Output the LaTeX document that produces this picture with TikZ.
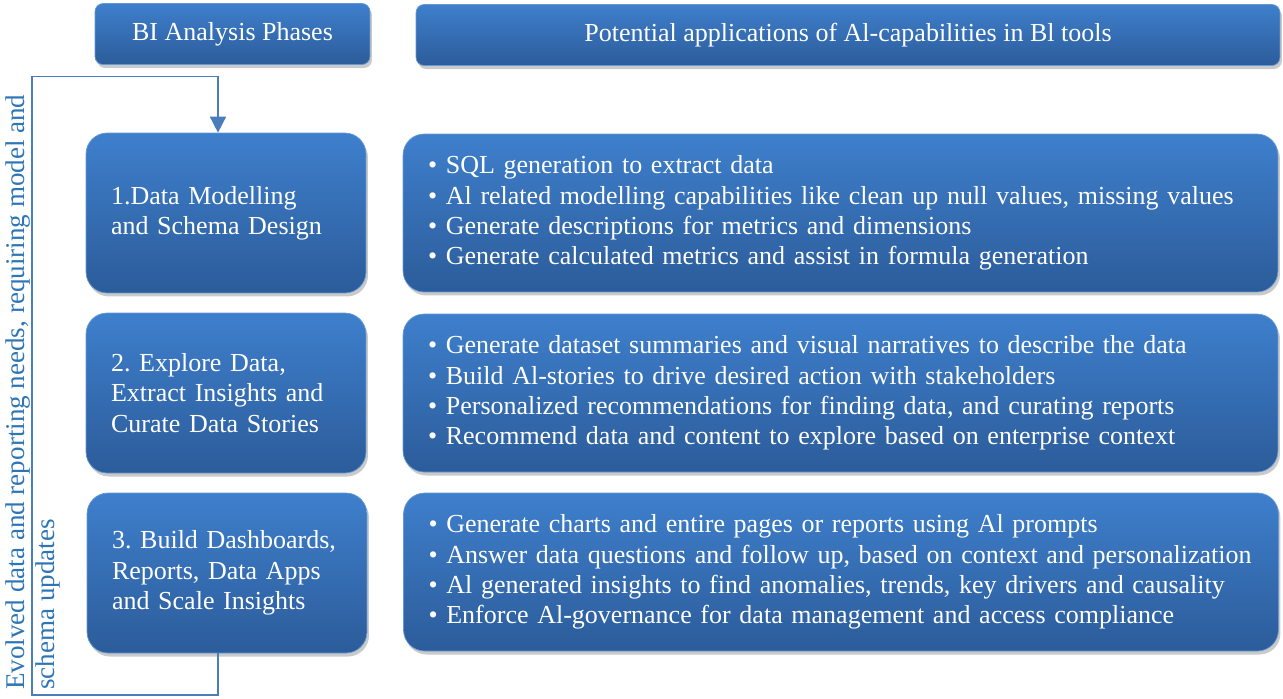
\documentclass[tikz,border=0pt]{standalone}
\usepackage{fontspec}
\setmainfont{Liberation Serif}
\usetikzlibrary{arrows.meta, shadows, calc}

\definecolor{boxtop}{RGB}{62,127,204}
\definecolor{boxbottom}{RGB}{44,92,154}
\definecolor{loopblue}{RGB}{74,126,187}
\definecolor{notetext}{RGB}{46,117,182}

\newcommand{\boxfont}{\fontsize{14.8}{17.3}\selectfont\frenchspacing\hyphenpenalty=10000\relax}

\tikzset{
  bluebox/.style={shade, top color=boxtop, bottom color=boxbottom,
    draw=boxtop!80!white, line width=0.4pt, text=white, font=\boxfont,
    drop shadow={shadow xshift=0.04cm, shadow yshift=-0.07cm, opacity=0.35, fill=black!60}},
  headbox/.style={bluebox, rounded corners=0.16cm, minimum height=1.22cm, align=center},
  phasebox/.style={bluebox, rounded corners=0.42cm, minimum width=5.6cm, minimum height=3.2cm,
    text width=4.8cm, align=left, inner xsep=0.4cm},
  appbox/.style={bluebox, rounded corners=0.42cm, minimum width=17.5cm, minimum height=3.16cm,
    text width=17.3cm, align=left, inner xsep=0.1cm}
}
\tikzset{
  feedback/.style={draw=loopblue, line width=0.9pt,
    -{Triangle[width=0.32cm, length=0.32cm]}}
}

\begin{document}
\begin{tikzpicture}[x=0.02cm, y=-0.02cm]
\useasboundingbox (0,0) rectangle (1283,698);

% column headers
\node [headbox, minimum width=5.5cm] (hphase) at (232.5,34) {BI Analysis Phases};
\node [headbox, minimum width=17.28cm] (happ) at (848,35)
  {Potential applications of Al-capabilities in Bl tools};

% phases
\node [phasebox] (p1) at (226,213) {\hspace*{0.1cm}1.Data Modelling\\\hspace*{0.1cm}and Schema Design};
\node [phasebox] (p2) at (226,393) {\hspace*{0.1cm}2. Explore Data,\\\hspace*{0.1cm}Extract Insights and\\\hspace*{0.1cm}Curate Data Stories};
\node [phasebox] (p3) at (227,573) {\hspace*{0.1cm}3. Build Dashboards,\\\hspace*{0.1cm}Reports, Data Apps\\\hspace*{0.1cm}and Scale Insights};

% applications
\node [appbox] (a1) at (840.5,213) {%
  \hspace*{0.4cm}• SQL generation to extract data\\
  \hspace*{0.4cm}• Al related modelling capabilities like clean up null values, missing values\\
  \hspace*{0.4cm}• Generate descriptions for metrics and dimensions\\
  \hspace*{0.4cm}• Generate calculated metrics and assist in formula generation};
\node [appbox] (a2) at (840.5,393) {%
  \hspace*{0.4cm}• Generate dataset summaries and visual narratives to describe the data\\
  \hspace*{0.4cm}• Build Al-stories to drive desired action with stakeholders\\
  \hspace*{0.4cm}• Personalized recommendations for finding data, and curating reports\\
  \hspace*{0.4cm}• Recommend data and content to explore based on enterprise context};
\node [appbox] (a3) at (841,572) {%
  \hspace*{0.4cm}• Generate charts and entire pages or reports using Al prompts\\
  \hspace*{0.4cm}• Answer data questions and follow up, based on context and personalization\\
  \hspace*{0.4cm}• Al generated insights to find anomalies, trends, key drivers and causality\\
  \hspace*{0.4cm}• Enforce Al-governance for data management and access compliance};

% feedback loop
\coordinate (fbcorner) at (32,695);
\draw [feedback] ([xshift=-0.18cm]p3.south) |- (fbcorner)
  |- ([xshift=-0.16cm, yshift=1.12cm]p1.north) -- ([xshift=-0.16cm]p1.north);
\node [rotate=90, anchor=north west, inner sep=0pt, align=left, text=notetext,
  font=\fontsize{15.4}{17.3}\selectfont] (fbnote) at (5,690)
  {Evolved data and reporting needs, requiring model and\\schema updates};
\end{tikzpicture}
\end{document}
